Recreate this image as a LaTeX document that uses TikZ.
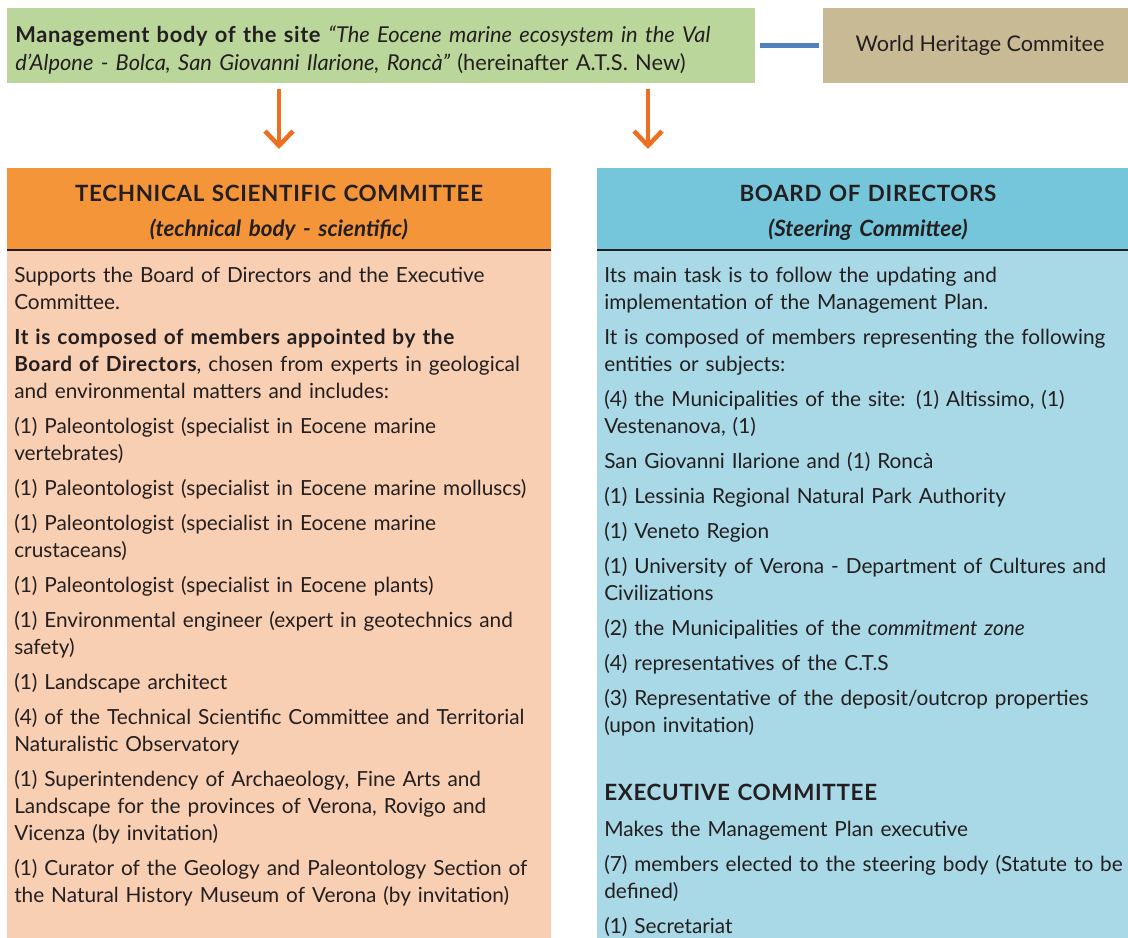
\documentclass[tikz,border=0pt]{standalone}
\usepackage{fontspec}
\setmainfont{Lato}[BoldFeatures={LetterSpace=3}]
\usetikzlibrary{positioning,arrows.meta}

\definecolor{mgmtgreen}{RGB}{187,214,154}
\definecolor{whctan}{RGB}{200,186,148}
\definecolor{linkblue}{RGB}{79,129,189}
\definecolor{arrorange}{RGB}{236,112,32}
\definecolor{tscorange}{RGB}{244,149,58}
\definecolor{tscpeach}{RGB}{249,207,180}
\definecolor{bodblue}{RGB}{117,198,218}
\definecolor{bodlight}{RGB}{169,216,230}
\definecolor{ink}{RGB}{35,31,32}

\begin{document}
\begin{tikzpicture}[x=0.75pt,y=-0.75pt,
    box/.style={inner sep=0pt,outer sep=0pt,anchor=north west},
    head/.style={inner sep=0pt,anchor=base,text width=408pt,align=center,text=ink,font=\bfseries\fontsize{16.8}{27}\selectfont},
    txt/.style={inner sep=0pt,anchor=base west,text width=700pt,align=left,text=ink,font=\fontsize{15.6}{20.25}\selectfont},
    rule/.style={draw=ink,line width=1.1pt},
    arr/.style={draw=arrorange,line width=3.4pt,-{Straight Barb[length=11pt,width=21pt]},shorten <=4.5pt,shorten >=14.25pt},
    link/.style={draw=linkblue,line width=3.4pt,shorten <=3.75pt,shorten >=3pt}]
    \useasboundingbox (0,0) rectangle (1128,938);

    \node[box,fill=mgmtgreen,minimum width=561pt,minimum height=56.25pt] (mgmt) at (7,8) {};
    \node[box,fill=whctan,minimum width=235.5pt,minimum height=56.25pt,text=ink,font=\fontsize{16.2}{20.25}\selectfont] (whc) at (823,8) {World Heritage Commitee};
    \node[txt,font=\fontsize{16.4}{21}\selectfont] (mgmttext) at (15,42.5) {\textbf{Management body of the site} \textit{“The Eocene marine ecosystem in the Val}\\\textit{d’Alpone - Bolca, San Giovanni Ilarione, Roncà”} (hereinafter A.T.S. New)};

    \node[box,fill=tscorange,minimum width=408pt,minimum height=61.5pt] (tschead) at (7,168) {};
    \node[box,fill=bodblue,minimum width=408pt,minimum height=61.5pt] (bodhead) at (597,168) {};
    \node[box,fill=tscpeach,minimum width=408pt,minimum height=520pt] (tscbody) at (tschead.south west) {};
    \node[box,fill=bodlight,minimum width=408pt,minimum height=520pt] (bodbody) at (bodhead.south west) {};
    \node[head] (tsctitle) at (279,201) {TECHNICAL SCIENTIFIC COMMITTEE\\\textit{(technical body - scientific)}};
    \node[head] (bodtitle) at (868,201) {BOARD OF DIRECTORS\\\textit{(Steering Committee)}};

    \node[txt] (tsctext) at (14,282) {Supports the Board of Directors and the Executive\\Committee.\\[6pt]\textbf{It is composed of members appointed by the}\\\textbf{Board of Directors}, chosen from experts in geological\\and environmental matters and includes:\\[6pt](1) Paleontologist (specialist in Eocene marine\\vertebrates)\\[6pt](1) Paleontologist (specialist in Eocene marine molluscs)\\[6pt](1) Paleontologist (specialist in Eocene marine\\crustaceans)\\[6pt](1) Paleontologist (specialist in Eocene plants)\\[6pt](1) Environmental engineer (expert in geotechnics and\\safety)\\[6pt](1) Landscape architect\\[6pt](4) of the Technical Scientific Committee and Territorial\\Naturalistic Observatory\\[6pt](1) Superintendency of Archaeology, Fine Arts and\\Landscape for the provinces of Verona, Rovigo and\\Vicenza (by invitation)\\[6pt](1) Curator of the Geology and Paleontology Section of\\the Natural History Museum of Verona (by invitation)};

    \node[txt] (bodtext) at (604,282) {Its main task is to follow the updating and\\implementation of the Management Plan.\\[6pt]It is composed of members representing the following\\entities or subjects:\\[6pt](4) the Municipalities of the site: (1) Altissimo, (1)\\Vestenanova, (1)\\[6pt]San Giovanni Ilarione and (1) Roncà\\[6pt](1) Lessinia Regional Natural Park Authority\\[6pt](1) Veneto Region\\[6pt](1) University of Verona - Department of Cultures and\\Civilizations\\[6pt](2) the Municipalities of the \textit{commitment zone}\\[6pt](4) representatives of the C.T.S\\[6pt](3) Representative of the deposit/outcrop properties\\(upon invitation)};
    \node[txt,font=\bfseries\fontsize{16.8}{20.25}\selectfont] (exectitle) at (604,800) {EXECUTIVE COMMITTEE};
    \node[txt] (exectext) at (604,836) {Makes the Management Plan executive\\[6pt](7) members elected to the steering body (Statute to be\\defined)\\[6pt](1) Secretariat};

    \draw[rule] (tschead.south west) -- (tschead.south east);
    \draw[rule] (bodhead.south west) -- (bodhead.south east);

    \coordinate (bodin) at (648,168);
    \draw[arr] (mgmt.south -| tschead.north) -- (tschead.north);
    \draw[arr] (mgmt.south -| bodin) -- (bodin);
    \draw[link] (mgmt.east) -- (whc.west);
\end{tikzpicture}
\end{document}
